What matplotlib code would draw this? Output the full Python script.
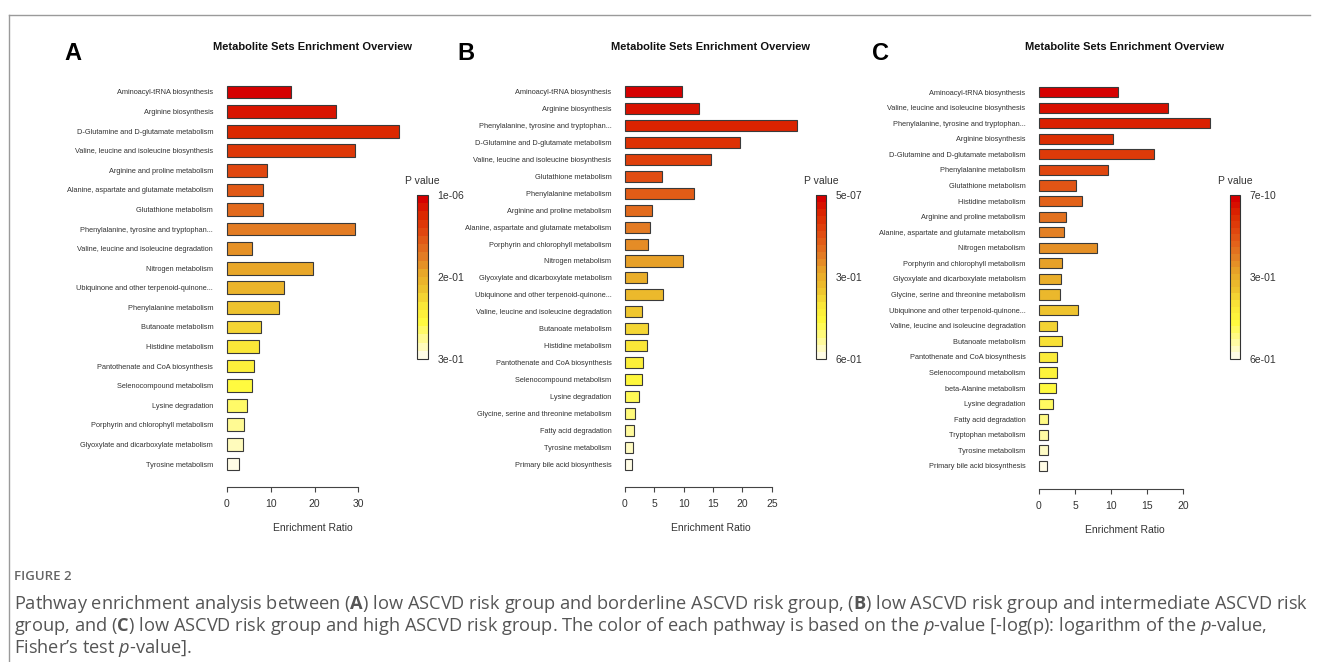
import numpy as np
import matplotlib
matplotlib.use("Agg")
import matplotlib.pyplot as plt
from matplotlib.colors import LinearSegmentedColormap, ListedColormap, Normalize
import matplotlib.cm as cm
from matplotlib.lines import Line2D

plt.rcParams['font.family'] = ['Liberation Sans', 'DejaVu Sans']
plt.rcParams['mathtext.fontset'] = 'custom'
plt.rcParams['mathtext.rm'] = 'Open Sans'
plt.rcParams['mathtext.bf'] = 'Open Sans:bold'
plt.rcParams['mathtext.it'] = 'Open Sans:italic'

# ---------------- data ----------------
A_labels = ["Aminoacyl-tRNA biosynthesis", "Arginine biosynthesis",
            "D-Glutamine and D-glutamate metabolism",
            "Valine, leucine and isoleucine biosynthesis",
            "Arginine and proline metabolism",
            "Alanine, aspartate and glutamate metabolism",
            "Glutathione metabolism", "Phenylalanine, tyrosine and tryptophan...",
            "Valine, leucine and isoleucine degradation", "Nitrogen metabolism",
            "Ubiquinone and other terpenoid-quinone...", "Phenylalanine metabolism",
            "Butanoate metabolism", "Histidine metabolism",
            "Pantothenate and CoA biosynthesis", "Selenocompound metabolism",
            "Lysine degradation", "Porphyrin and chlorophyll metabolism",
            "Glyoxylate and dicarboxylate metabolism", "Tyrosine metabolism"]
A_ratio = [14.6, 25.0, 39.2, 29.3, 9.25, 8.35, 8.35, 29.2, 5.84, 19.6,
           13.0, 11.8, 7.8, 7.3, 6.15, 5.84, 4.7, 3.95, 3.65, 2.88]
A_xticks = [0, 10, 20, 30]
A_pticks = ["1e-06", "2e-01", "3e-01"]

B_labels = ["Aminoacyl-tRNA biosynthesis", "Arginine biosynthesis",
            "Phenylalanine, tyrosine and tryptophan...",
            "D-Glutamine and D-glutamate metabolism",
            "Valine, leucine and isoleucine biosynthesis",
            "Glutathione metabolism", "Phenylalanine metabolism",
            "Arginine and proline metabolism",
            "Alanine, aspartate and glutamate metabolism",
            "Porphyrin and chlorophyll metabolism", "Nitrogen metabolism",
            "Glyoxylate and dicarboxylate metabolism",
            "Ubiquinone and other terpenoid-quinone...",
            "Valine, leucine and isoleucine degradation", "Butanoate metabolism",
            "Histidine metabolism", "Pantothenate and CoA biosynthesis",
            "Selenocompound metabolism", "Lysine degradation",
            "Glycine, serine and threonine metabolism", "Fatty acid degradation",
            "Tyrosine metabolism", "Primary bile acid biosynthesis"]
B_ratio = [9.77, 12.55, 29.3, 19.6, 14.6, 6.25, 11.7, 4.65, 4.2, 3.97, 9.83,
           3.69, 6.53, 2.95, 3.92, 3.69, 3.12, 2.9, 2.39, 1.76, 1.53, 1.42, 1.25]
B_xticks = [0, 5, 10, 15, 20, 25]
B_pticks = ["5e-07", "3e-01", "6e-01"]

C_labels = ["Aminoacyl-tRNA biosynthesis",
            "Valine, leucine and isoleucine biosynthesis",
            "Phenylalanine, tyrosine and tryptophan...", "Arginine biosynthesis",
            "D-Glutamine and D-glutamate metabolism", "Phenylalanine metabolism",
            "Glutathione metabolism", "Histidine metabolism",
            "Arginine and proline metabolism",
            "Alanine, aspartate and glutamate metabolism", "Nitrogen metabolism",
            "Porphyrin and chlorophyll metabolism",
            "Glyoxylate and dicarboxylate metabolism",
            "Glycine, serine and threonine metabolism",
            "Ubiquinone and other terpenoid-quinone...",
            "Valine, leucine and isoleucine degradation", "Butanoate metabolism",
            "Pantothenate and CoA biosynthesis", "Selenocompound metabolism",
            "beta-Alanine metabolism", "Lysine degradation",
            "Fatty acid degradation", "Tryptophan metabolism",
            "Tyrosine metabolism", "Primary bile acid biosynthesis"]
C_ratio = [10.95, 17.9, 23.7, 10.25, 15.9, 9.55, 5.12, 5.96, 3.79, 3.42, 7.98,
           3.19, 3.0, 2.9, 5.35, 2.44, 3.23, 2.54, 2.44, 2.3, 1.98, 1.29, 1.2,
           1.2, 1.1]
C_xticks = [0, 5, 10, 15, 20]
C_pticks = ["7e-10", "3e-01", "6e-01"]

caption_head = "FIGURE 2"
caption_lines = [
    r"Pathway enrichment analysis between ($\mathbf{A}$) low ASCVD risk group and borderline ASCVD risk group, ($\mathbf{B}$) low ASCVD risk group and intermediate ASCVD risk",
    r"group, and ($\mathbf{C}$) low ASCVD risk group and high ASCVD risk group. The color of each pathway is based on the $p$-value [-log(p): logarithm of the $p$-value,",
    r"Fisher’s test $p$-value].",
]

# ---------------- style ----------------
W, H = 1322, 662
fig = plt.figure(figsize=(W / 100, H / 100), dpi=100)

def fx(x):
    return x / W

def fy(y):
    return 1 - y / H

heat = LinearSegmentedColormap.from_list("msea", [
    (0.00, (0.84, 0.00, 0.00)),
    (0.105, (0.86, 0.16, 0.00)),
    (0.21, (0.88, 0.28, 0.06)),
    (0.37, (0.89, 0.49, 0.14)),
    (0.47, (0.91, 0.65, 0.16)),
    (0.58, (0.93, 0.76, 0.18)),
    (0.68, (0.98, 0.90, 0.22)),
    (0.79, (1.00, 0.98, 0.24)),
    (0.89, (1.00, 0.98, 0.55)),
    (1.00, (1.00, 0.99, 0.90)),
])

TXT = "#333333"


def draw_panel(labels, ratios, xticks, pticks, letter, x0, ppu, y_first, step,
               axis_y, cbar_x, letter_x):
    n = len(labels)
    xmax = max(ratios)
    width = xmax * ppu
    top = y_first - step / 2
    height = n * step
    ax = fig.add_axes([fx(x0), fy(top + height), width / W, height / H])
    cols = heat(np.linspace(0, 1, n))
    ax.barh(np.arange(n), ratios, height=0.65, color=cols,
            edgecolor="#3a3a3a", linewidth=0.8, clip_on=False)
    ax.set_xlim(0, xmax)
    ax.set_ylim(n - 0.5, -0.5)
    ax.set_yticks(np.arange(n))
    ax.set_yticklabels(labels, fontsize=5.3, color=TXT)
    ax.tick_params(axis="y", length=0, pad=13.5 * 0.72)
    for s in ["top", "right", "left"]:
        ax.spines[s].set_visible(False)
    ax.spines["bottom"].set_bounds(xticks[0], xticks[-1])
    ax.spines["bottom"].set_position(("outward", (axis_y - (top + height)) * 0.72))
    ax.spines["bottom"].set_color("#444444")
    ax.spines["bottom"].set_linewidth(0.8)
    ax.set_xticks(xticks)
    ax.set_xticklabels([str(t) for t in xticks])
    ax.tick_params(axis="x", length=3.6, width=0.8, color="#444444",
                   labelsize=7.5, labelcolor=TXT, pad=5)
    ax.set_xlabel("Enrichment Ratio", fontsize=7.5, color=TXT, labelpad=10)
    ax.patch.set_alpha(0)

    fig.text(fx(x0 + width / 2), fy(47), "Metabolite Sets Enrichment Overview",
             ha="center", va="center", fontsize=8, fontweight="bold", color="#111111")
    fig.text(fx(letter_x), fy(54), letter, ha="left", va="center",
             fontsize=17, fontweight="bold", color="black")

    cax = fig.add_axes([fx(cbar_x), fy(359), 10 / W, 164 / H])
    sm = cm.ScalarMappable(norm=Normalize(0, 1), cmap=ListedColormap(cols[::-1]))
    cb = fig.colorbar(sm, cax=cax, ticks=[0, 0.5, 1])
    cb.set_ticklabels([pticks[2], pticks[1], pticks[0]])
    cax.tick_params(length=0, labelsize=7.5, labelcolor=TXT, pad=7)
    cb.outline.set_linewidth(0.8)
    cb.outline.set_edgecolor("#333333")
    cax.set_title("P value", fontsize=7.5, color=TXT, pad=8)
    return ax


draw_panel(A_labels, A_ratio, A_xticks, A_pticks, "A", 226.7, 4.39, 92, 19.58,
           486.7, 417.5, 64)
draw_panel(B_labels, B_ratio, B_xticks, B_pticks, "B", 625, 5.87, 91.3, 16.97,
           486.7, 816, 457)
draw_panel(C_labels, C_ratio, C_xticks, C_pticks, "C", 1039, 7.22, 92, 15.58,
           489, 1230, 872)

# frame lines (top and left)
fig.add_artist(Line2D([fx(9), fx(1310)], [fy(15), fy(15)], transform=fig.transFigure,
                      color="#9a9a9a", lw=1))
fig.add_artist(Line2D([fx(9), fx(9)], [fy(15), fy(662)], transform=fig.transFigure,
                      color="#9a9a9a", lw=1))

# caption
fig.text(fx(14), fy(577), caption_head, ha="left", va="center", fontsize=9.5,
         family="Open Sans", fontweight="semibold", color="#666666")
cap_texts = []
for i, line in enumerate(caption_lines):
    t = fig.text(fx(14), fy(604 + 22 * i), line, ha="left", va="center",
                 fontsize=11.5, family="Open Sans", color="#555555")
    cap_texts.append(t)
renderer = fig.canvas.get_renderer()
w0 = cap_texts[0].get_window_extent(renderer).width
fs = 11.5 * 1296 / w0
for t in cap_texts:
    t.set_fontsize(fs)

fig.savefig("out.png", dpi=100, facecolor="white")
